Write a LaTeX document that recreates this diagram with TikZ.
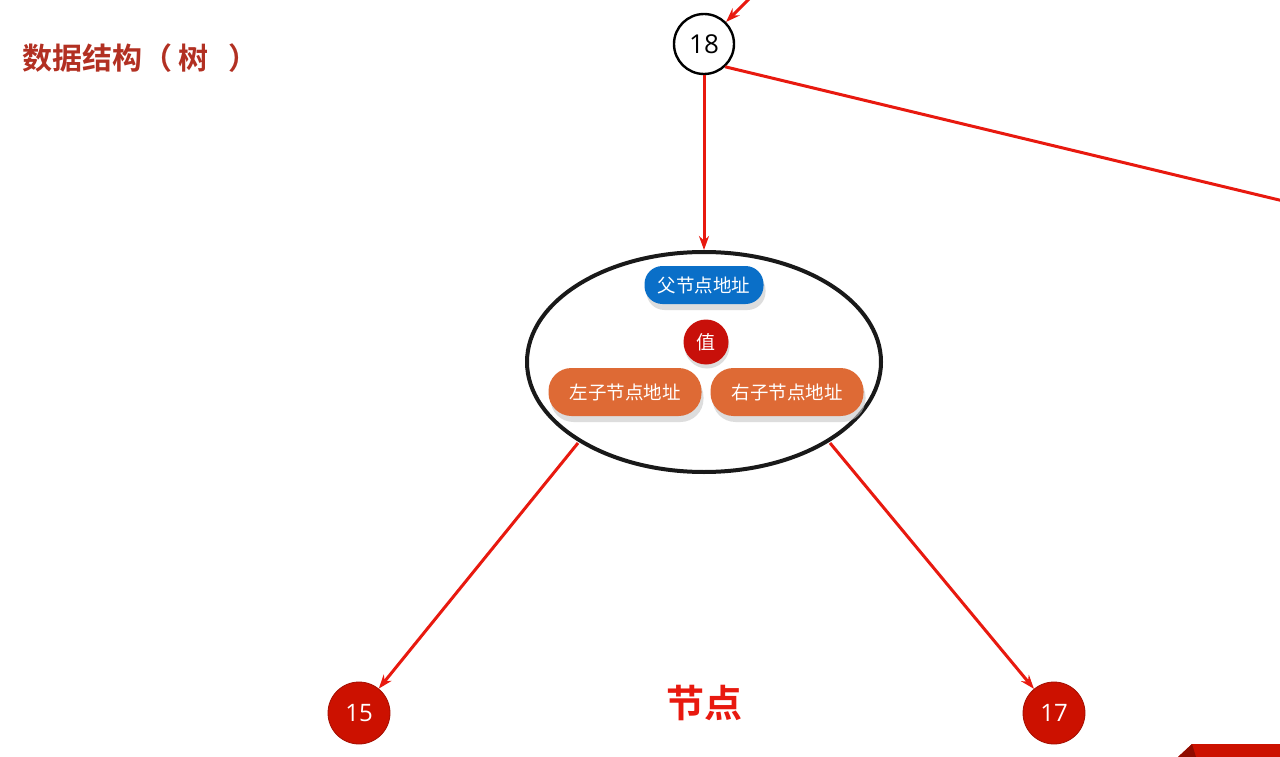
\documentclass[tikz,border=0pt]{standalone}
\usepackage{fontspec}
\setmainfont{Noto Sans CJK SC}
\newfontfamily\cjkb{Noto Sans CJK SC Bold}
\newfontfamily\numfont{Open Sans}
\usetikzlibrary{arrows.meta,shapes.geometric,shadows}
\definecolor{linered}{HTML}{E8190F}
\definecolor{nodered}{HTML}{CC1100}
\definecolor{titlered}{HTML}{B23022}
\definecolor{pillblue}{HTML}{0A6FC8}
\definecolor{pillorange}{HTML}{DE6A35}
\definecolor{valred}{HTML}{C8100A}
\tikzset{
  conn/.style={draw=linered, line width=3pt, -{Stealth[length=14pt,width=10pt]}},
  plainconn/.style={draw=linered, line width=3pt},
  pill/.style={rounded corners=18pt, minimum height=38pt, text=white, font=\fontsize{18.5}{20}\selectfont,
    inner sep=0pt, drop shadow={shadow xshift=2pt, shadow yshift=-6pt, fill=black!22, opacity=0.6}},
  leaf/.style={circle, fill=nodered, draw=nodered!80!black, line width=0.8pt, minimum size=62pt, inner sep=0pt,
    text=white, font=\numfont\fontsize{24}{26}\selectfont},
}
\begin{document}
\begin{tikzpicture}[x=1pt,y=-1pt]
\useasboundingbox (0,0) rectangle (1280,757);
\fill[white] (0,0) rectangle (1280,757);
\begin{scope}
\clip (0,0) rectangle (1280,757);
% root
\node[circle, draw=black, line width=2.4pt, fill=white, minimum size=60pt, inner sep=0pt,
  font=\numfont\fontsize{26}{28}\selectfont] (root) at (704,44) {18};
\coordinate (inTop) at (756,-8);
\coordinate (outRight) at (1300,205);
\draw[conn] (inTop) -- (root);
\draw[plainconn] (root.-47) -- (outRight);
% node ellipse
\node[ellipse, draw=black!90, line width=4pt, minimum width=354pt, minimum height=220pt, inner sep=0pt] (tn) at (704,362) {};
\draw[conn] (root) -- (tn.north);
\node[pill, fill=pillblue, minimum width=119pt] (parent) at (704,285) {父节点地址};
\node[circle, fill=valred, minimum size=45pt, inner sep=0pt, text=white, font=\fontsize{19}{21}\selectfont,
  drop shadow={shadow xshift=1pt, shadow yshift=-4pt, fill=black!22, opacity=0.6}] (val) at (706,342) {值};
\node[pill, fill=pillorange, minimum width=153pt, minimum height=48pt, rounded corners=23pt] (lc) at (625,392) {左子节点地址};
\node[pill, fill=pillorange, minimum width=153pt, minimum height=48pt, rounded corners=23pt] (rc) at (787,392) {右子节点地址};
% children
\node[leaf] (n15) at (359,713) {15};
\node[leaf] (n17) at (1054,713) {17};
\coordinate (tl) at (578,443);
\coordinate (tr) at (830,443);
\draw[conn] (tl) -- (n15);
\draw[conn] (tr) -- (n17);
% labels
\node[font=\cjkb\fontsize{38}{42}\selectfont, text=linered] (lbl) at (704,703) {节点};
\node[font=\cjkb\fontsize{30}{34}\selectfont, text=titlered, anchor=west, inner sep=0pt] (title) at (22,58) {数据结构（\hspace{6pt}树\hspace{20pt}）};
% banner bottom right
\fill[nodered] (1192,744) -- (1280,744) -- (1280,757) -- (1178,757) -- cycle;
\fill[nodered!70!black] (1178,757) -- (1192,744) -- (1196,757) -- cycle;
\end{scope}
\end{tikzpicture}
\end{document}
